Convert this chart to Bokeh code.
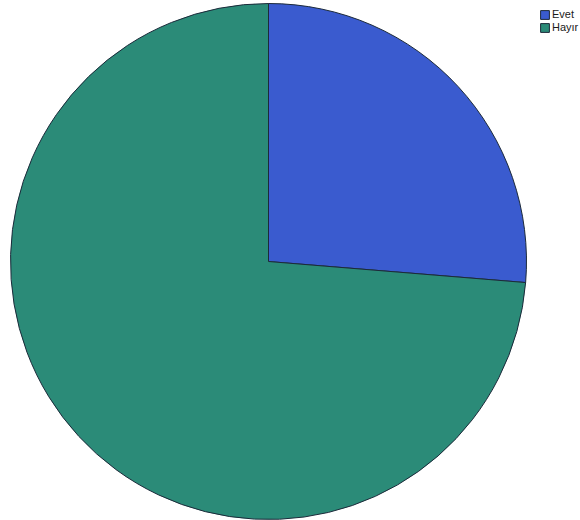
import math
from bokeh.plotting import figure
from bokeh.models import Range1d, Legend, LegendItem
from bokeh.embed import file_html
from bokeh.resources import INLINE

categories = ["Evet", "Hayır"]
percents = [26.3, 73.7]
colors = ["#3a5bcf", "#2b8b78"]

W, H = 580, 520
cx, cy, r = 268, 261, 258

p = figure(width=W, height=H, output_backend="svg", toolbar_location=None,
           x_range=Range1d(0, W), y_range=Range1d(0, H), min_border=0)
p.axis.visible = False
p.grid.visible = False
p.outline_line_color = None
p.background_fill_color = "white"

total = sum(percents)
starts, ends = [], []
acc = 0.0
for v in percents:
    a0 = math.pi / 2 - acc / total * 2 * math.pi
    acc += v
    a1 = math.pi / 2 - acc / total * 2 * math.pi
    starts.append(a1)
    ends.append(a0)

renderers = []
for i in range(len(categories)):
    rr = p.wedge(x=cx, y=H - cy, radius=r, start_angle=starts[i], end_angle=ends[i],
                 fill_color=colors[i], line_color="#1c2a3a", line_width=1)
    renderers.append(rr)

legend = Legend(items=[LegendItem(label=c, renderers=[renderers[i]]) for i, c in enumerate(categories)],
                location=(539, H - 33), glyph_width=11, glyph_height=11,
                label_text_font_size="11px", label_text_font="Liberation Sans",
                label_text_color="#1a1a1a",
                spacing=1, padding=0, margin=0, label_standoff=2,
                border_line_color=None, background_fill_alpha=0,
                label_height=11)
p.add_layout(legend)

open("out.html", "w").write(file_html(p, INLINE))
